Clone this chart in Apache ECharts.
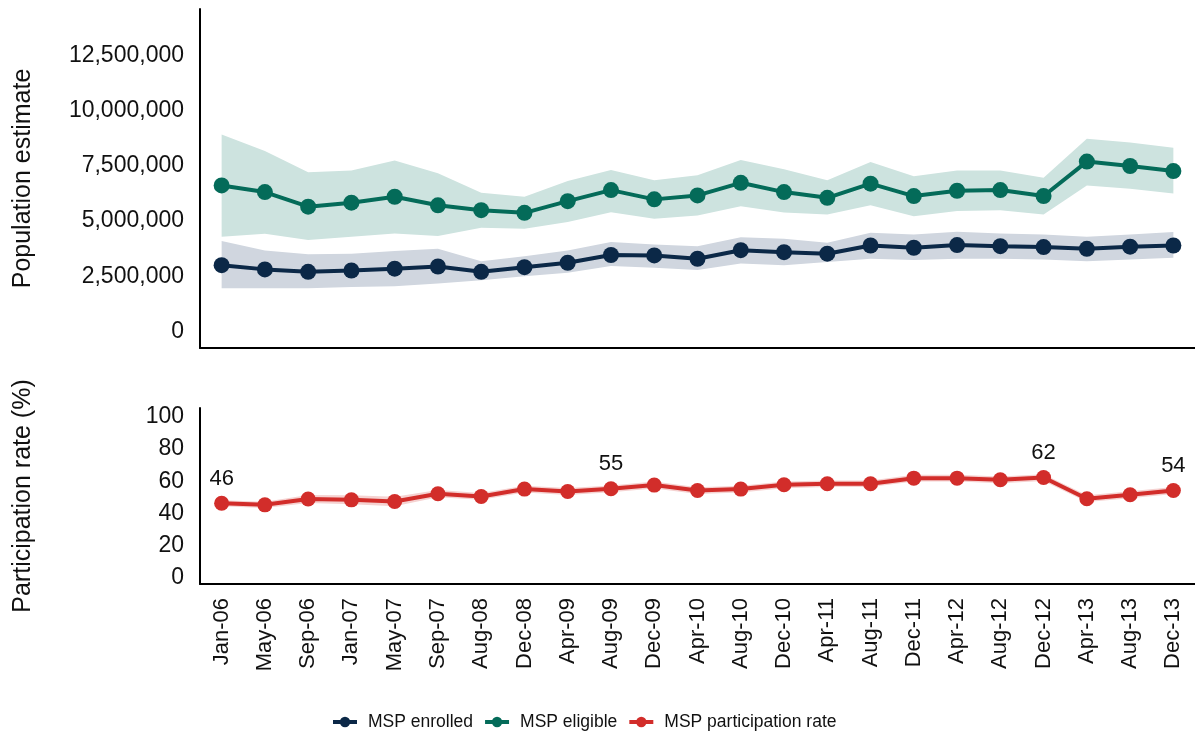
<!DOCTYPE html>
<html>
<head>
<meta charset="utf-8">
<title>MSP enrollment</title>
<script src="https://cdn.jsdelivr.net/npm/echarts@6/dist/echarts.min.js"></script>
<style>
    html, body { margin: 0; padding: 0; background: #fff; }
    #chart { width: 1195px; height: 739px; }
</style>
</head>
<body>
<div id="chart"></div>
<script>
// categories
var months = ["Jan-06", "May-06", "Sep-06", "Jan-07", "May-07", "Sep-07", "Aug-08", "Dec-08", "Apr-09", "Aug-09", "Dec-09",
    "Apr-10", "Aug-10", "Dec-10", "Apr-11", "Aug-11", "Dec-11", "Apr-12", "Aug-12", "Dec-12", "Apr-13", "Aug-13", "Dec-13"];

// MSP enrolled (estimate + interval)
var enrolled = [3000000, 2810000, 2700000, 2760000, 2840000, 2940000, 2700000, 2910000, 3110000, 3460000, 3440000,
    3290000, 3680000, 3590000, 3520000, 3890000, 3790000, 3910000, 3860000, 3820000, 3740000, 3840000, 3890000];
var enrolledLow = [1950000, 1950000, 1950000, 2010000, 2050000, 2170000, 2320000, 2500000, 2660000, 2960000, 2880000,
    2780000, 3080000, 3000000, 3140000, 3290000, 3230000, 3290000, 3290000, 3260000, 3180000, 3260000, 3340000];
var enrolledHigh = [4090000, 3670000, 3490000, 3520000, 3640000, 3740000, 3180000, 3410000, 3670000, 4050000, 3940000,
    3860000, 4270000, 4200000, 4020000, 4470000, 4390000, 4510000, 4440000, 4390000, 4290000, 4390000, 4500000];

// MSP eligible (estimate + interval)
var eligible = [6610000, 6310000, 5650000, 5830000, 6100000, 5710000, 5490000, 5370000, 5900000, 6400000, 5980000,
    6160000, 6730000, 6310000, 6050000, 6690000, 6130000, 6370000, 6400000, 6130000, 7690000, 7490000, 7260000];
var eligibleLow = [4290000, 4420000, 4140000, 4290000, 4440000, 4320000, 4700000, 4650000, 4950000, 5400000, 5100000,
    5250000, 5670000, 5380000, 5300000, 5710000, 5220000, 5450000, 5490000, 5300000, 6610000, 6460000, 6250000];
var eligibleHigh = [8920000, 8170000, 7210000, 7290000, 7740000, 7160000, 6280000, 6100000, 6810000, 7310000, 6850000,
    7070000, 7760000, 7340000, 6850000, 7670000, 7030000, 7290000, 7290000, 6960000, 8730000, 8550000, 8320000];

// participation rate (%)
var rate = [46.3, 45.3, 48.9, 48.4, 47.4, 52.2, 50.5, 55.1, 53.6, 55.3, 57.6,
    54.2, 55.1, 57.8, 58.4, 58.4, 61.9, 61.9, 60.9, 62.3, 49.1, 51.6, 54.2];
var rateLow = [44.4, 43.4, 46.4, 45.6, 44.4, 50.0, 48.4, 53.0, 51.4, 53.2, 55.4,
    52.1, 53.0, 55.7, 56.4, 56.4, 59.8, 59.8, 58.8, 60.2, 47.0, 49.4, 52.0];
var rateHigh = [48.2, 47.2, 51.4, 51.2, 50.4, 54.6, 52.6, 57.2, 55.8, 57.4, 59.8,
    56.3, 57.2, 59.9, 60.4, 60.4, 64.0, 64.0, 63.0, 64.4, 51.2, 53.8, 56.4];
var rateLabelled = [0, 9, 19, 22];

// y tick labels
var popTicks = [0, 2500000, 5000000, 7500000, 10000000, 12500000];
var rateTicks = [0, 20, 40, 60, 80, 100];

var cEnrolled = "#0b2847", cEligible = "#046b59", cRate = "#d22d2a";
var font = "'Liberation Sans', Arial, sans-serif";

function diff(hi, lo) {
    return hi.map(function (v, i) { return v - lo[i]; });
}

// band = invisible lower line + stacked area of the width
function band(name, lo, hi, color, axisIdx) {
    return [{
        name: name + "-lo", type: "line", stack: name, data: lo,
        xAxisIndex: axisIdx, yAxisIndex: axisIdx,
        symbol: "none", lineStyle: { opacity: 0 }, silent: true, z: 1
    }, {
        name: name + "-band", type: "line", stack: name, data: diff(hi, lo),
        xAxisIndex: axisIdx, yAxisIndex: axisIdx,
        symbol: "none", lineStyle: { opacity: 0 }, areaStyle: { color: color, opacity: 1 },
        silent: true, z: 1
    }];
}

function line(name, data, color, axisIdx, size) {
    return {
        name: name, type: "line", data: data,
        xAxisIndex: axisIdx, yAxisIndex: axisIdx,
        symbol: "circle", symbolSize: size, showSymbol: true,
        itemStyle: { color: color }, lineStyle: { color: color, width: 4 },
        z: 3
    };
}

var rateData = rate.map(function (v, i) {
    if (rateLabelled.indexOf(i) < 0) return v;
    return {
        value: v,
        label: {
            show: true, position: "top", distance: 6,
            formatter: function (p) { return Math.round(p.value); },
            fontFamily: font, fontSize: 22, color: "#111"
        }
    };
});

var chart = echarts.init(document.getElementById("chart"));

var xBase = {
    type: "category", data: months, boundaryGap: true,
    axisLine: { onZero: false, lineStyle: { color: "#000", width: 2 } },
    axisTick: { show: false },
    splitLine: { show: false }
};

var yBase = {
    type: "value",
    nameLocation: "middle", nameGap: 164,
    nameTextStyle: { fontFamily: font, fontSize: 25, color: "#111" },
    axisLine: { show: true, lineStyle: { color: "#000", width: 2 } },
    axisTick: { show: false },
    splitLine: { show: false }
};

var option = {
    animation: false,
    backgroundColor: "#fff",
    grid: [
        { left: 200, right: -2, top: 9, height: 339 },
        { left: 200, right: -2, top: 408, height: 176 }
    ],
    legend: {
        data: ["MSP enrolled", "MSP eligible", "MSP participation rate"],
        left: 326, top: 708,
        itemWidth: 24, itemHeight: 13, itemGap: 10,
        lineStyle: { width: 4 },
        textStyle: { fontFamily: font, fontSize: 17.5, color: "#111", padding: [0, 0, 0, 6] }
    }
};

option.xAxis = [
    Object.assign({}, xBase, { gridIndex: 0, axisLabel: { show: false } }),
    Object.assign({}, xBase, {
        gridIndex: 1,
        axisLabel: {
            rotate: 90, margin: 14, interval: 0,
            fontFamily: font, fontSize: 22, color: "#111"
        }
    })
];

option.yAxis = [
    Object.assign({}, yBase, {
        gridIndex: 0, name: "Population estimate",
        min: -750000, max: 14600000, interval: 125000,
        axisLabel: {
            margin: 16, fontFamily: font, fontSize: 23, color: "#111",
            formatter: function (v) {
                var r = Math.round(v);
                return popTicks.indexOf(r) >= 0 ? r.toLocaleString("en-US") : "";
            }
        }
    }),
    Object.assign({}, yBase, {
        gridIndex: 1, name: "Participation rate (%)",
        min: -4, max: 105.6, interval: 4,
        axisLabel: {
            margin: 16, fontFamily: font, fontSize: 23, color: "#111",
            formatter: function (v) {
                var r = Math.round(v);
                return rateTicks.indexOf(r) >= 0 ? String(r) : "";
            }
        }
    })
];

option.series = []
    .concat(band("eligible", eligibleLow, eligibleHigh, "#cde3df", 0))
    .concat(band("enrolled", enrolledLow, enrolledHigh, "#d0d6df", 0))
    .concat(band("rate", rateLow, rateHigh, "#f5d2d1", 1))
    .concat([
        line("MSP enrolled", enrolled, cEnrolled, 0, 16),
        line("MSP eligible", eligible, cEligible, 0, 16),
        line("MSP participation rate", rateData, cRate, 1, 15)
    ]);

chart.setOption(option);
</script>
</body>
</html>
